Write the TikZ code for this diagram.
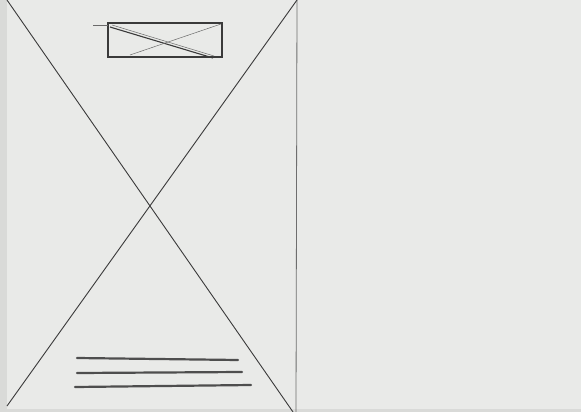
\documentclass[tikz,border=0pt]{standalone}
\usetikzlibrary{calc}
\definecolor{paper}{HTML}{E9EAE8}
\definecolor{edge}{HTML}{D9DAD8}
\definecolor{pencil}{HTML}{3A3A3A}
\definecolor{softpencil}{HTML}{6A6A6A}
\definecolor{ruler}{HTML}{6E6E6E}
\tikzset{
  diag/.style={draw=pencil, line width=0.9pt},
  rule/.style={draw=ruler, line width=0.8pt},
  sketchbox/.style={draw=pencil, line width=1.6pt},
  thinstroke/.style={draw=softpencil, line width=0.5pt},
  textline/.style={draw=pencil!90, line width=2.2pt, line cap=round}
}
\begin{document}
\begin{tikzpicture}[x=1pt,y=-1pt]
  \fill[paper] (0,0) rectangle (581,412);
  \useasboundingbox (0,0) rectangle (581,412);
  % paper edges
  \fill[edge] (0,0) rectangle (6.5,412);
  \fill[edge] (0,409) rectangle (581,412);
  % corners
  \coordinate (TL) at (7,0);
  \coordinate (TR) at (297,0);
  \coordinate (BR) at (296,412);
  \coordinate (BLd) at (7,406);
  \coordinate (BRd) at (293,412);
  % vertical rule
  \draw[rule] (TR) -- (BR);
  % big cross
  \draw[diag] (TL) -- (BRd);
  \draw[diag] (TR) -- (BLd);
  % image placeholder box
  \coordinate (b1) at (108,23);
  \coordinate (b2) at (222,57);
  \draw[sketchbox] (b1) rectangle (b2);
  \draw[thinstroke] (93,25) -- (108,25);
  \draw[draw=pencil, line width=1.1pt] (110,27) -- (213,58);
  \draw[thinstroke] (112,25) -- (214,56);
  \draw[thinstroke] (130,55) -- (221,24);
  % text lines
  \draw[textline] (77,358) -- (238,360);
  \draw[textline] (77,373) -- (242,372);
  \draw[textline] (75,387) -- (251,385);
\end{tikzpicture}
\end{document}
